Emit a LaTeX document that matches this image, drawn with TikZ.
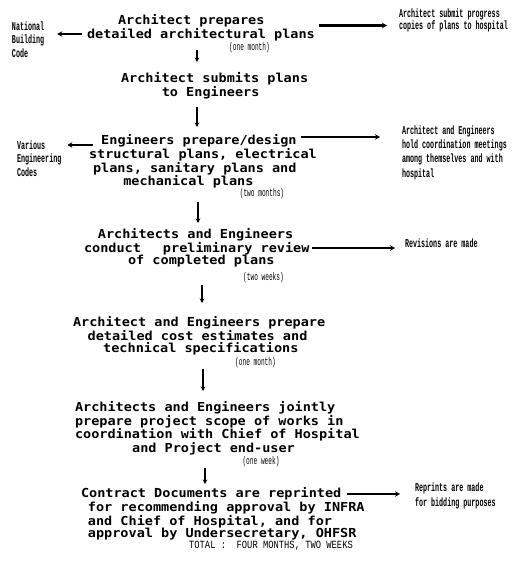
\documentclass[tikz,border=0pt]{standalone}
\usepackage{fontspec}
\usetikzlibrary{arrows.meta,calc}

% typewriter faces: wide dot-matrix body text, narrow notes
\newfontfamily\typefont{DejaVu Sans Mono}[FakeStretch=1.09]
\newfontfamily\notefont{Liberation Mono}[FakeStretch=0.56]
\newfontfamily\totalfont{Liberation Mono}[FakeStretch=0.8]

% one character cell of the body face
\newlength\cw
\setlength\cw{8.164pt}
\newcommand\lead[1]{\hspace*{#1\cw}}

\tikzset{
  stepbox/.style={anchor=north west, inner sep=0pt, outer sep=0pt, align=left,
    font=\typefont\bfseries\fontsize{12.4}{12.4}\selectfont},
  note/.style={anchor=west, inner sep=0pt, outer sep=0pt, align=left,
    font=\notefont\bfseries\fontsize{12}{#1}\selectfont},
  note/.default=13.5,
  duration/.style={inner sep=0pt, font=\notefont\fontsize{11}{12}\selectfont},
  flow/.style={line width=1.3pt, -{Stealth[length=4.5pt,width=4.5pt]}},
  side/.style={line width=2.2pt, -{Stealth[length=5pt,width=5.5pt]}},
}

\begin{document}
\begin{tikzpicture}[x=1pt,y=-1pt]
\useasboundingbox (0,0) rectangle (529,564);

% ---- main sequence of steps ----
\node[stepbox] (b1) at (87,14.6)
  {\lead{3.8}Architect prepares\\detailed architectural plans};
\node[stepbox] (b2) at (121,72.6)
  {Architect submits plans\\\lead{5}to Engineers};
\node[stepbox] (b3) at (89,134.6)
  {\lead{1.5}Engineers prepare/design\\structural plans, electrical\\\lead{0.5}plans, sanitary plans and\\\lead{4.2}mechanical plans};
\node[stepbox] (b4) at (84,228.6)
  {\lead{1.7}Architects and Engineers\\conduct\lead{2.7}preliminary review\\\lead{5.4}of completed plans};
\node[stepbox] (b5) at (73,316.6)
  {Architect and Engineers prepare\\\lead{1.8}detailed cost estimates and\\\lead{3.7}technical specifications};
\node[stepbox] (b6) at (75,401.6)
  {Architects and Engineers jointly\\prepare project scope of works in\\coordination with Chief of Hospital\\\lead{7}and Project end-user};
\node[stepbox] (b7) at (81,487.6)
  {Contract Documents are reprinted\\\lead{0.85}for recommending approval by INFRA\\\lead{0.85}and Chief of Hospital, and for\\\lead{0.85}approval by Undersecretary, OHFSR};

% ---- durations ----
\node[duration] (d1) at (249.5,48) {(one month)};
\node[duration] (d3) at (262,193.5) {(two months)};
\node[duration] (d4) at (263.5,277.5) {(two weeks)};
\node[duration] (d5) at (255.5,362.5) {(one month)};
\node[duration] (d6) at (261,462) {(one week)};
\node[inner sep=0pt, font=\totalfont\fontsize{11}{12}\selectfont] (tot) at (271,546)
  {TOTAL : \ FOUR MONTHS, TWO WEEKS};

% ---- side notes ----
\node[note=12] (r1) at (399,20) {Architect submit progress\\copies of plans to hospital};
\node[note] (l1) at (12,39.5) {National\\Building\\Code};
\node[note] (l3) at (17,158.5) {Various\\Engineering\\Codes};
\node[note=14.3] (r3) at (402,152.5) {Architect and Engineers\\hold coordination meetings\\among themselves and with\\hospital};
\node[note] (r4) at (405,243) {Revisions are made};
\node[note=15] (r7) at (415,495.5) {Reprints are made\\for bidding purposes};

% ---- columns and rows used by the connectors ----
\coordinate (c1) at (197,0);
\coordinate (c2) at (197,0);
\coordinate (c3) at (198,0);
\coordinate (c4) at (202,0);
\coordinate (c5) at (203,0);
\coordinate (c6) at (205,0);
\coordinate (y1r) at (0,25.5);
\coordinate (y1l) at (0,34);
\coordinate (y3r) at (0,137);
\coordinate (y3l) at (0,145);
\coordinate (y4r) at (0,248);
\coordinate (y7r) at (0,494);

% ---- downward flow ----
\draw[flow, shorten <=9.2pt, shorten >=10.6pt] (b1.south -| c1) -- (b2.north -| c1);
\draw[flow, shorten <=7.7pt, shorten >=7.6pt] (b2.south -| c2) -- (b3.north -| c2);
\draw[flow, shorten <=13.4pt, shorten >=5.6pt] (b3.south -| c3) -- (b4.north -| c3);
\draw[flow, shorten <=17.3pt, shorten >=13.6pt] (b4.south -| c4) -- (b5.north -| c4);
\draw[flow, shorten <=13.8pt, shorten >=10.6pt] (b5.south -| c5) -- (b6.north -| c5);
\draw[flow, shorten <=12.9pt, shorten >=3.6pt] (b6.south -| c6) -- (b7.north -| c6);

% ---- side arrows ----
\draw[side] ($(b1.east |- y1r)+(4.4,0)$) -- ($(r1.west |- y1r)+(-12,0)$);
\draw[side] ($(b1.west |- y1l)+(-5,0)$) -- ($(l1.east |- y1l)+(13,0)$);
\draw[side] ($(b3.east |- y3r)+(-15.6,0)$) -- ($(r3.west |- y3r)+(-22,0)$);
\draw[side] ($(b3.west |- y3l)+(4,0)$) -- ($(l3.east |- y3l)+(6,0)$);
\draw[side] ($(b4.east |- y4r)+(3,0)$) -- ($(r4.west |- y4r)+(-10,0)$);
\draw[side] ($(b7.east |- y7r)+(-17.5,0)$) -- ($(r7.west |- y7r)+(-15,0)$);
\end{tikzpicture}
\end{document}
